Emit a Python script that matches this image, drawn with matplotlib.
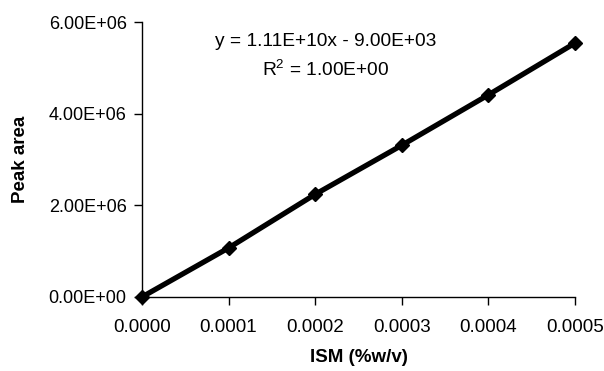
import matplotlib
matplotlib.use("Agg")
import matplotlib.pyplot as plt
import numpy as np

plt.rcParams['font.family'] = ['Liberation Sans', 'DejaVu Sans']

# calibration points
ism = [0.0000, 0.0001, 0.0002, 0.0003, 0.0004, 0.0005]
peak_area = [0.0, 1.07e6, 2.24e6, 3.31e6, 4.41e6, 5.54e6]
y_ticks = [0.0, 2.0e6, 4.0e6, 6.0e6]
x_ticks = [0.0000, 0.0001, 0.0002, 0.0003, 0.0004, 0.0005]

fig = plt.figure(figsize=(6.04, 3.71), dpi=100)
ax = fig.add_axes([0.235, 0.1995, 0.717, 0.7412])

ax.plot(ism, peak_area, color='black', linewidth=3.8, marker='D', markersize=7.5,
        markerfacecolor='black', markeredgecolor='black', clip_on=False, zorder=3)

ax.set_xlim(0, 0.0005)
ax.set_ylim(0, 6.0e6)
ax.set_xticks(x_ticks)
ax.set_xticklabels(['%.4f' % v for v in x_ticks], fontsize=13.5)
ax.set_yticks(y_ticks)
ax.set_yticklabels(['%.2E' % v for v in y_ticks], fontsize=13)

for side in ['top', 'right']:
    ax.spines[side].set_visible(False)
for side in ['left', 'bottom']:
    ax.spines[side].set_linewidth(1.0)
ax.tick_params(axis='both', direction='out', length=6, width=1.0, pad=5)
ax.tick_params(axis='x', pad=10)

ax.set_xlabel('ISM (%w/v)', fontsize=13.5, fontweight='bold', labelpad=9)
ax.set_ylabel('Peak area', fontsize=13.5, fontweight='bold', labelpad=14)

ax.text(0.000212, 5.25e6, 'y = 1.11E+10x - 9.00E+03\n$\\mathregular{R^2}$ = 1.00E+00',
        ha='center', va='center', fontsize=13.8, linespacing=1.6)

fig.savefig('out.png', dpi=100)
